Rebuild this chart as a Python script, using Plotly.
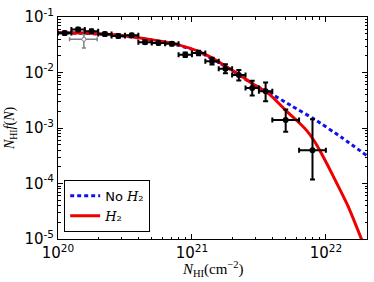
import plotly.graph_objects as go

# ---- data ----
# bin centres (log10 N_HI) and bin half widths (dex)
nhi_log = [20.05, 20.15, 20.25, 20.35, 20.45, 20.55, 20.65, 20.75, 20.85,
           20.95, 21.05, 21.15, 21.25, 21.35, 21.45, 21.55, 21.70, 21.90]
nhi_halfwidth_dex = [0.05] * 16 + [0.10, 0.10]
f_vals = [0.0513, 0.0596, 0.0556, 0.0492, 0.0454, 0.0467, 0.0352, 0.0341, 0.0330,
          0.0209, 0.0224, 0.0160, 0.0117, 0.00906, 0.00525, 0.00458, 0.00139, 0.000398]
f_err_up_dex = [0.03, 0.03, 0.03, 0.03, 0.03, 0.03, 0.03, 0.03, 0.03,
                0.04, 0.04, 0.06, 0.08, 0.09, 0.13, 0.16, 0.19, 0.56]
f_err_lo_dex = [0.03, 0.03, 0.03, 0.03, 0.03, 0.03, 0.03, 0.03, 0.03,
                0.04, 0.04, 0.06, 0.08, 0.10, 0.134, 0.18, 0.21, 0.53]

# gray comparison point
gray_nhi = [1.56e20]
gray_nhi_lo = [1.22e20]
gray_nhi_hi = [1.96e20]
gray_f = [0.0397]
gray_f_hi = [0.0486]
gray_f_lo = [0.0275]

# model curves (log10 N, log10 f)
h2_logN = [20.0, 20.2, 20.44, 20.65, 20.8, 20.9, 21.05, 21.15, 21.25, 21.35, 21.45,
           21.575, 21.712, 21.787, 21.862, 21.925, 21.987, 22.049, 22.162, 22.262, 22.30]
h2_logf = [-1.278, -1.29, -1.325, -1.39, -1.45, -1.502, -1.619, -1.737, -1.884, -2.033, -2.197,
           -2.386, -2.711, -2.874, -3.06, -3.28, -3.55, -3.84, -4.39, -4.98, -5.22]
noh2_logN = [20.0, 20.2, 20.44, 20.65, 20.8, 20.9, 21.05, 21.25, 21.45, 21.562, 21.75,
             21.912, 22.124, 22.31]
noh2_logf = [-1.285, -1.295, -1.33, -1.395, -1.457, -1.51, -1.628, -1.893, -2.20, -2.344, -2.61,
             -2.839, -3.182, -3.506]

x_ticks_log = [20, 21, 22]
y_ticks_log = [-5, -4, -3, -2, -1]

# ---- derived ----
N = [10.0 ** v for v in nhi_log]
ex_plus = [10.0 ** (v + w) - 10.0 ** v for v, w in zip(nhi_log, nhi_halfwidth_dex)]
ex_minus = [10.0 ** v - 10.0 ** (v - w) for v, w in zip(nhi_log, nhi_halfwidth_dex)]
ey_plus = [f * (10.0 ** u - 1) for f, u in zip(f_vals, f_err_up_dex)]
ey_minus = [f * (1 - 10.0 ** (-d)) for f, d in zip(f_vals, f_err_lo_dex)]

x_minor = [m * 10.0 ** e for e in x_ticks_log for m in range(2, 10) if m * 10.0 ** e < 10 ** 22.307]
y_minor = [m * 10.0 ** e for e in y_ticks_log[:-1] for m in range(2, 10)]

serif = "Liberation Serif"

fig = go.Figure()

fig.add_trace(go.Scatter(
    x=[10.0 ** v for v in noh2_logN], y=[10.0 ** v for v in noh2_logf],
    mode="lines", line=dict(color="#1010ee", width=3, dash="4px,3px", shape="spline", smoothing=0.6),
    name="No <span style='font-family:DejaVu Serif'><i>H</i>₂</span>",
))
fig.add_trace(go.Scatter(
    x=[10.0 ** v for v in h2_logN], y=[10.0 ** v for v in h2_logf],
    mode="lines", line=dict(color="#ee0000", width=3, shape="spline", smoothing=0.6),
    name="<span style='font-family:DejaVu Serif'><i>H</i>₂</span>",
))
fig.add_trace(go.Scatter(
    x=gray_nhi, y=gray_f, mode="markers",
    marker=dict(color="white", size=4, line=dict(color="gray", width=1)),
    error_x=dict(type="data", array=[h - x for h, x in zip(gray_nhi_hi, gray_nhi)],
                 arrayminus=[x - l for l, x in zip(gray_nhi_lo, gray_nhi)],
                 color="gray", thickness=1.5, width=2),
    error_y=dict(type="data", array=[h - y for h, y in zip(gray_f_hi, gray_f)],
                 arrayminus=[y - l for l, y in zip(gray_f_lo, gray_f)],
                 color="gray", thickness=1.5, width=2),
    showlegend=False,
))
fig.add_trace(go.Scatter(
    x=N, y=f_vals, mode="markers",
    marker=dict(color="black", size=6),
    error_x=dict(type="data", array=ex_plus, arrayminus=ex_minus,
                 color="black", thickness=2, width=2.5),
    error_y=dict(type="data", array=ey_plus, arrayminus=ey_minus,
                 color="black", thickness=2, width=2.5),
    showlegend=False,
))

axis_common = dict(
    showgrid=False, zeroline=False, showline=True, linecolor="black", linewidth=1,
    mirror="allticks", ticks="inside", ticklen=5, tickwidth=1, tickcolor="black",
    tickfont=dict(family="DejaVu Sans", size=15, color="black"),
)

fig.update_xaxes(
    type="log", range=[20, 22.307], tickmode="array", tickvals=[10.0 ** v for v in x_ticks_log],
    ticktext=[f"10<sup>{v}</sup>" for v in x_ticks_log],
    minor=dict(tickmode="array", tickvals=x_minor, ticks="inside", ticklen=2.5,
               tickcolor="black", tickwidth=0.8, showgrid=False),
    **axis_common,
)
fig.update_yaxes(
    type="log", range=[-5, -1], tickmode="array", tickvals=[10.0 ** v for v in y_ticks_log],
    ticktext=[f"10<sup>{v}</sup>" for v in y_ticks_log],
    minor=dict(tickmode="array", tickvals=y_minor, ticks="inside", ticklen=2.5,
               tickcolor="black", tickwidth=0.8, showgrid=False),
    **axis_common,
)

fig.add_annotation(
    text="<i>N</i><sub>HI</sub>(cm<sup>−2</sup>)", xref="paper", yref="paper",
    x=0.5, y=-0.137, xanchor="center", yanchor="middle", showarrow=False,
    font=dict(family=serif, size=15, color="black"),
)
fig.add_annotation(
    text="<i>N</i><sub>HI</sub><i>f</i>(<i>N</i>)", xref="paper", yref="paper",
    x=-0.155, y=0.5, xanchor="center", yanchor="middle", showarrow=False, textangle=-90,
    font=dict(family=serif, size=14, color="black"),
)

fig.update_layout(
    width=374, height=282,
    margin=dict(l=58, r=6, t=13, b=43),
    plot_bgcolor="white", paper_bgcolor="white",
    legend=dict(x=0.02, y=0.032, xanchor="left", yanchor="bottom",
                bgcolor="white", bordercolor="black", borderwidth=1,
                font=dict(family="DejaVu Sans", size=13, color="black"),
                itemwidth=30, tracegroupgap=0, entrywidth=86, entrywidthmode="pixels"),
)

# remove the browser's default 8px body margin so the figure fills the window
fig.write_html("out.html", config={"displayModeBar": False},
               post_script="document.body.style.margin='0';document.body.style.overflow='hidden';")
